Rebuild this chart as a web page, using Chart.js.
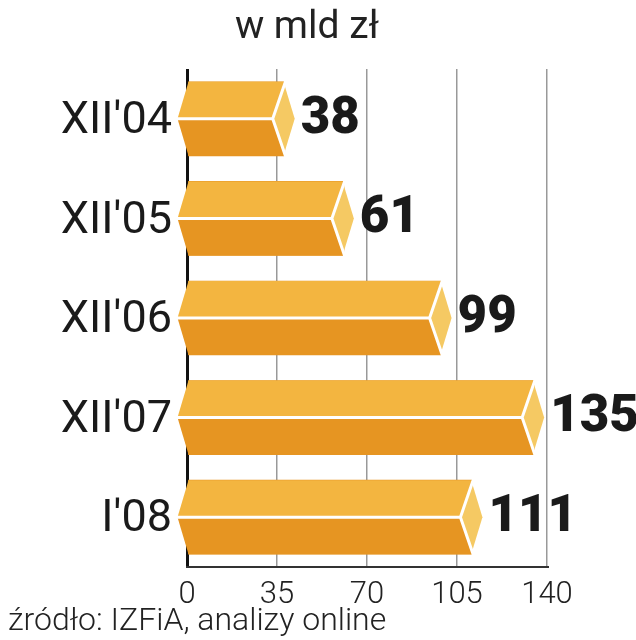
<!DOCTYPE html>
<html>
<head>
<meta charset="utf-8">
<style>
  html, body { margin: 0; padding: 0; background: #fff; }
  canvas { display: block; }
</style>
<script src="https://cdn.jsdelivr.net/npm/chart.js@4"></script>
</head>
<body>
<canvas id="chart" width="636" height="640"></canvas>
<script>
var categories = ["XII'04", "XII'05", "XII'06", "XII'07", "I'08"];
var values = [38, 61, 99, 135, 111];
var xTicks = [0, 35, 70, 105, 140];
var titleText = "w mld zł";
var sourceText = "źródło: IZFiA, analizy online";

var FONT = "Roboto, sans-serif";

// draws the prism faces on top of the plain bars
var prismPlugin = {
    id: "prism",
    afterDatasetsDraw: function (chart) {
        var ctx = chart.ctx;
        var meta = chart.getDatasetMeta(0);
        meta.data.forEach(function (bar, i) {
            var x0 = bar.base, xv = bar.x, mid = bar.y;
            var top = mid - bar.height / 2, bottom = mid + bar.height / 2;
            var inner = xv - 12, left = x0 - 11;
            ctx.save();
            poly(ctx, [[x0, bottom], [xv - 1, bottom], [inner, mid], [left, mid]], "#e69522");
            poly(ctx, [[x0, top], [xv - 1, top], [inner, mid], [left, mid]], "#f3b540");
            poly(ctx, [[xv, top + 4], [xv + 10, mid], [xv, bottom - 4], [inner, mid]], "#f5c963");

            // white seams between the faces
            ctx.strokeStyle = "#fff";
            ctx.lineWidth = 3;
            ctx.lineJoin = "miter";
            ctx.beginPath();
            ctx.moveTo(left - 2, mid);
            ctx.lineTo(inner, mid);
            ctx.moveTo(xv + 1, top - 1);
            ctx.lineTo(inner, mid);
            ctx.lineTo(xv + 1, bottom + 1);
            ctx.stroke();
            ctx.restore();

            // value label
            ctx.save();
            ctx.font = "900 51px " + FONT;
            ctx.fillStyle = "#1a1a1a";
            ctx.textAlign = "left";
            ctx.textBaseline = "middle";
            ctx.fillText(String(values[i]), xv + 16, mid + 1);
            ctx.restore();
        });

        ctx.save();
        ctx.fillStyle = "#222";
        ctx.textBaseline = "alphabetic";
        ctx.font = "300 32px " + FONT;
        ctx.textAlign = "left";
        ctx.fillText(sourceText, 8, 630);
        ctx.font = "400 39px " + FONT;
        ctx.textAlign = "center";
        ctx.fillText(titleText, 307, 38);
        ctx.restore();
    }
};

function poly(ctx, pts, fill) {
    ctx.beginPath();
    pts.forEach(function (p, i) {
        if (i === 0) ctx.moveTo(p[0], p[1]);
        else ctx.lineTo(p[0], p[1]);
    });
    ctx.closePath();
    ctx.fillStyle = fill;
    ctx.fill();
}

new Chart(document.getElementById("chart").getContext("2d"), {
    type: "bar",
    data: {
        labels: categories,
        datasets: [{
            data: values,
            backgroundColor: "#e69522",
            barThickness: 74
        }]
    },
    options: {
        indexAxis: "y",
        responsive: false,
        animation: false,
        layout: { padding: { top: 69, right: 89, bottom: 0, left: 0 } },
        plugins: { legend: { display: false }, tooltip: { enabled: false } },
        scales: {
            x: {
                min: 0,
                max: 140,
                afterBuildTicks: function (scale) {
                    scale.ticks = xTicks.map(function (v) { return { value: v }; });
                },
                afterFit: function (scale) { scale.height = 73; },
                grid: {
                    drawTicks: false,
                    color: function (c) { return c.index === 0 ? "#111" : "#999"; },
                    lineWidth: function (c) { return c.index === 0 ? 3 : 1.5; }
                },
                border: { display: true, color: "#333", width: 2 },
                ticks: {
                    padding: 10,
                    maxRotation: 0,
                    color: "#222",
                    font: { family: FONT, size: 31, weight: "300" }
                }
            },
            y: {
                afterFit: function (scale) { scale.width = 187; },
                grid: { display: false },
                border: { display: false },
                ticks: {
                    padding: 7,
                    labelOffset: 3,
                    color: "#1a1a1a",
                    font: { family: FONT, size: 45, weight: "400" }
                }
            }
        }
    },
    plugins: [prismPlugin]
});
</script>
</body>
</html>
